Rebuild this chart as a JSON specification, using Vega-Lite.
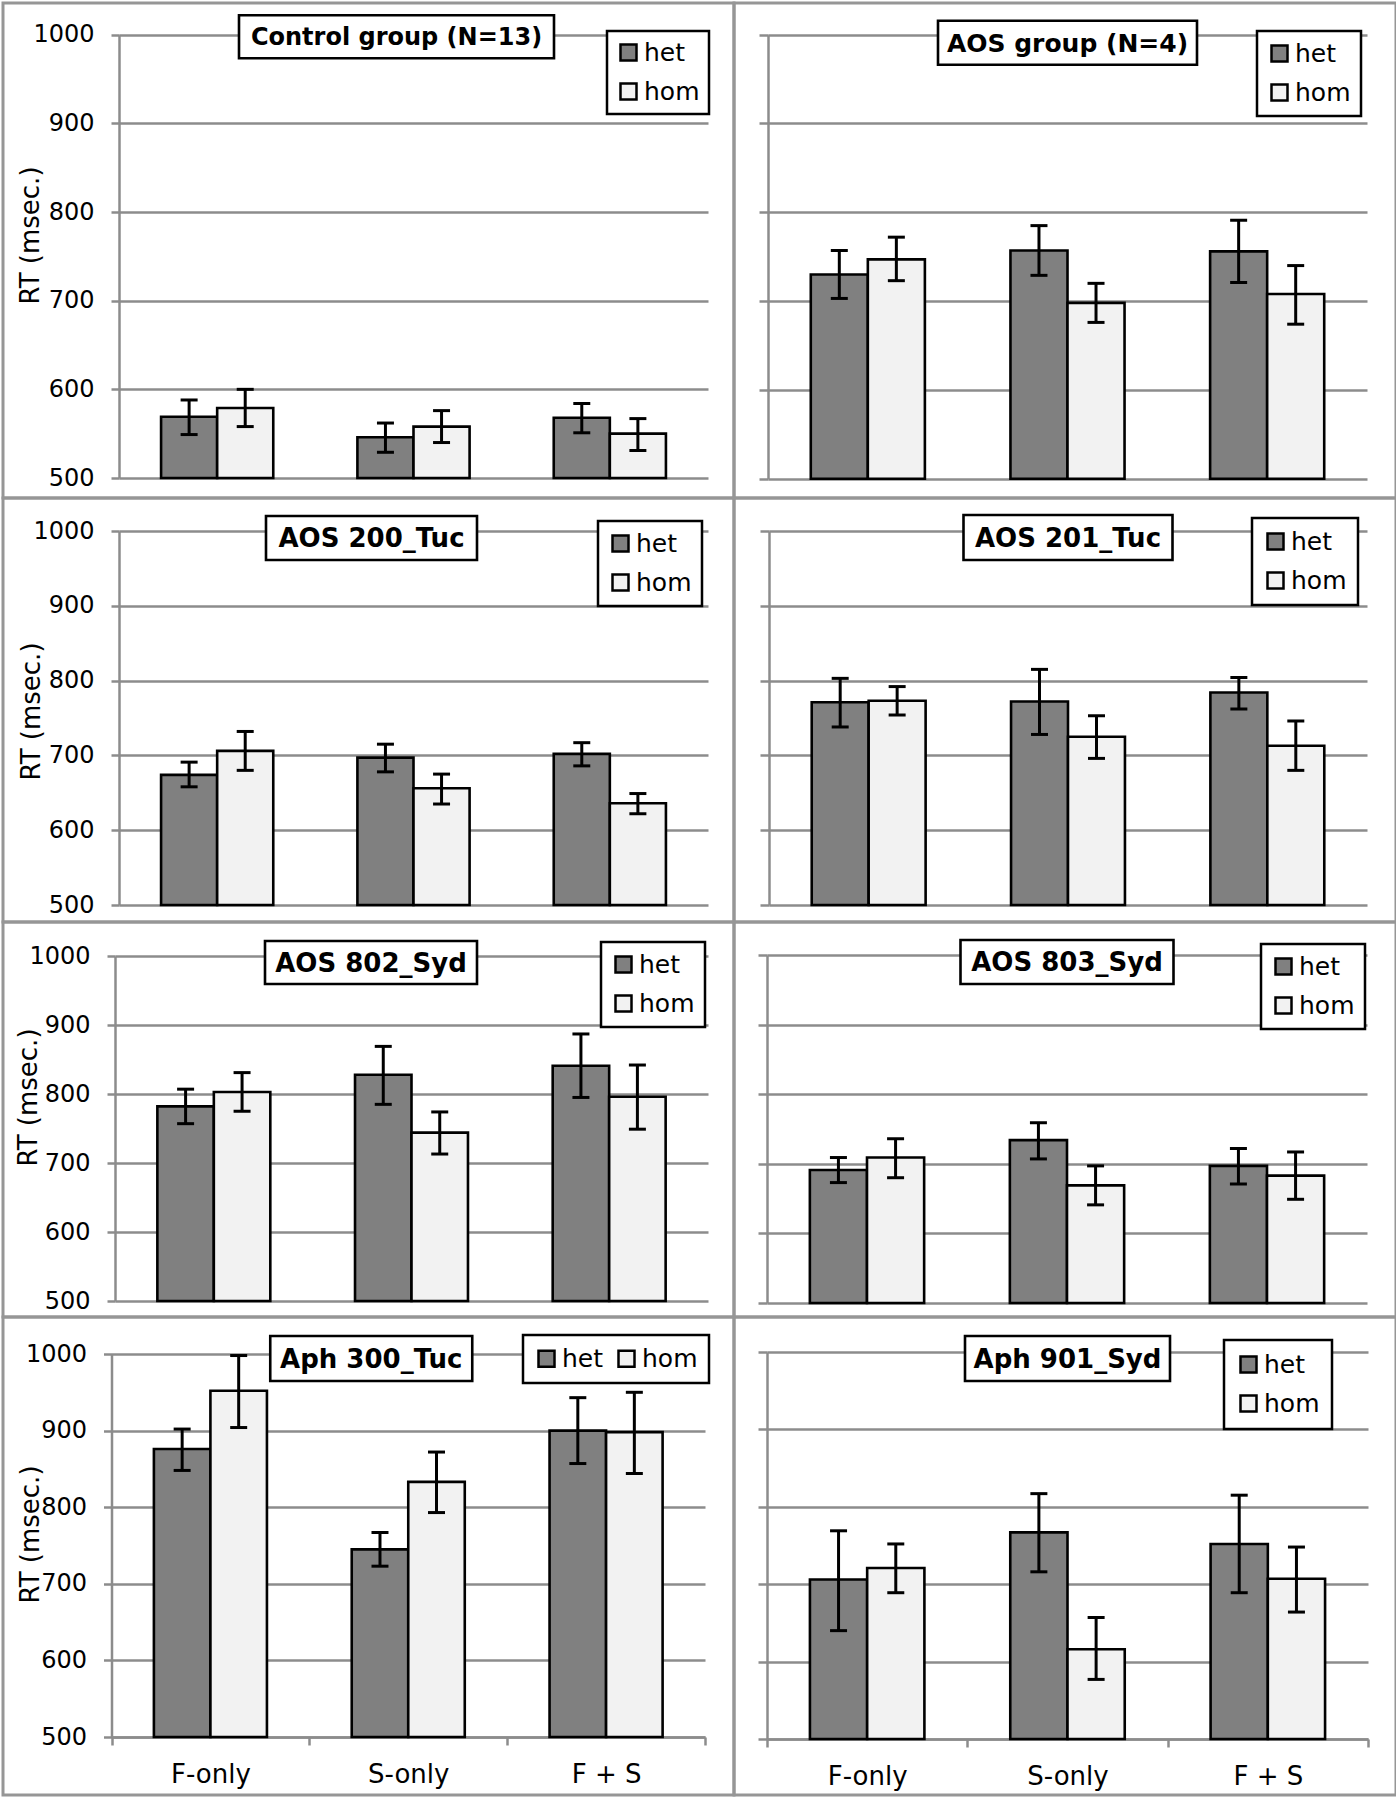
{
  "$schema": "https://vega.github.io/schema/vega-lite/v6.json",
  "background": "white",
  "padding": {"left": 1, "top": 1, "right": 0, "bottom": 0},
  "datasets": {
    "rt": [
      {"panel": "Control group (N=13)", "cond": "F-only", "geno": "het", "rt": 569, "lo": 549, "hi": 588},
      {"panel": "Control group (N=13)", "cond": "F-only", "geno": "hom", "rt": 579, "lo": 558, "hi": 600},
      {"panel": "Control group (N=13)", "cond": "S-only", "geno": "het", "rt": 546, "lo": 529, "hi": 562},
      {"panel": "Control group (N=13)", "cond": "S-only", "geno": "hom", "rt": 558, "lo": 540, "hi": 576},
      {"panel": "Control group (N=13)", "cond": "F + S", "geno": "het", "rt": 568, "lo": 551, "hi": 584},
      {"panel": "Control group (N=13)", "cond": "F + S", "geno": "hom", "rt": 550, "lo": 531, "hi": 567},
      {"panel": "AOS group (N=4)", "cond": "F-only", "geno": "het", "rt": 730, "lo": 703, "hi": 757},
      {"panel": "AOS group (N=4)", "cond": "F-only", "geno": "hom", "rt": 747, "lo": 723, "hi": 772},
      {"panel": "AOS group (N=4)", "cond": "S-only", "geno": "het", "rt": 757, "lo": 729, "hi": 785},
      {"panel": "AOS group (N=4)", "cond": "S-only", "geno": "hom", "rt": 698, "lo": 676, "hi": 720},
      {"panel": "AOS group (N=4)", "cond": "F + S", "geno": "het", "rt": 756, "lo": 721, "hi": 791},
      {"panel": "AOS group (N=4)", "cond": "F + S", "geno": "hom", "rt": 708, "lo": 674, "hi": 740},
      {"panel": "AOS 200_Tuc", "cond": "F-only", "geno": "het", "rt": 674, "lo": 658, "hi": 691},
      {"panel": "AOS 200_Tuc", "cond": "F-only", "geno": "hom", "rt": 706, "lo": 680, "hi": 732},
      {"panel": "AOS 200_Tuc", "cond": "S-only", "geno": "het", "rt": 697, "lo": 678, "hi": 715},
      {"panel": "AOS 200_Tuc", "cond": "S-only", "geno": "hom", "rt": 656, "lo": 635, "hi": 675},
      {"panel": "AOS 200_Tuc", "cond": "F + S", "geno": "het", "rt": 702, "lo": 686, "hi": 717},
      {"panel": "AOS 200_Tuc", "cond": "F + S", "geno": "hom", "rt": 636, "lo": 622, "hi": 649},
      {"panel": "AOS 201_Tuc", "cond": "F-only", "geno": "het", "rt": 771, "lo": 738, "hi": 803},
      {"panel": "AOS 201_Tuc", "cond": "F-only", "geno": "hom", "rt": 773, "lo": 754, "hi": 792},
      {"panel": "AOS 201_Tuc", "cond": "S-only", "geno": "het", "rt": 772, "lo": 728, "hi": 815},
      {"panel": "AOS 201_Tuc", "cond": "S-only", "geno": "hom", "rt": 725, "lo": 696, "hi": 753},
      {"panel": "AOS 201_Tuc", "cond": "F + S", "geno": "het", "rt": 784, "lo": 762, "hi": 804},
      {"panel": "AOS 201_Tuc", "cond": "F + S", "geno": "hom", "rt": 713, "lo": 680, "hi": 746},
      {"panel": "AOS 802_Syd", "cond": "F-only", "geno": "het", "rt": 782, "lo": 757, "hi": 807},
      {"panel": "AOS 802_Syd", "cond": "F-only", "geno": "hom", "rt": 803, "lo": 775, "hi": 831},
      {"panel": "AOS 802_Syd", "cond": "S-only", "geno": "het", "rt": 828, "lo": 785, "hi": 869},
      {"panel": "AOS 802_Syd", "cond": "S-only", "geno": "hom", "rt": 744, "lo": 713, "hi": 774},
      {"panel": "AOS 802_Syd", "cond": "F + S", "geno": "het", "rt": 841, "lo": 795, "hi": 887},
      {"panel": "AOS 802_Syd", "cond": "F + S", "geno": "hom", "rt": 796, "lo": 749, "hi": 842},
      {"panel": "AOS 803_Syd", "cond": "F-only", "geno": "het", "rt": 691, "lo": 673, "hi": 709},
      {"panel": "AOS 803_Syd", "cond": "F-only", "geno": "hom", "rt": 709, "lo": 680, "hi": 736},
      {"panel": "AOS 803_Syd", "cond": "S-only", "geno": "het", "rt": 734, "lo": 707, "hi": 759},
      {"panel": "AOS 803_Syd", "cond": "S-only", "geno": "hom", "rt": 669, "lo": 641, "hi": 697},
      {"panel": "AOS 803_Syd", "cond": "F + S", "geno": "het", "rt": 697, "lo": 671, "hi": 722},
      {"panel": "AOS 803_Syd", "cond": "F + S", "geno": "hom", "rt": 683, "lo": 649, "hi": 717},
      {"panel": "Aph 300_Tuc", "cond": "F-only", "geno": "het", "rt": 876, "lo": 848, "hi": 902},
      {"panel": "Aph 300_Tuc", "cond": "F-only", "geno": "hom", "rt": 952, "lo": 904, "hi": 998},
      {"panel": "Aph 300_Tuc", "cond": "S-only", "geno": "het", "rt": 745, "lo": 723, "hi": 767},
      {"panel": "Aph 300_Tuc", "cond": "S-only", "geno": "hom", "rt": 833, "lo": 793, "hi": 872},
      {"panel": "Aph 300_Tuc", "cond": "F + S", "geno": "het", "rt": 900, "lo": 857, "hi": 943},
      {"panel": "Aph 300_Tuc", "cond": "F + S", "geno": "hom", "rt": 898, "lo": 844, "hi": 950},
      {"panel": "Aph 901_Syd", "cond": "F-only", "geno": "het", "rt": 706, "lo": 640, "hi": 769},
      {"panel": "Aph 901_Syd", "cond": "F-only", "geno": "hom", "rt": 721, "lo": 689, "hi": 752},
      {"panel": "Aph 901_Syd", "cond": "S-only", "geno": "het", "rt": 767, "lo": 716, "hi": 817},
      {"panel": "Aph 901_Syd", "cond": "S-only", "geno": "hom", "rt": 616, "lo": 577, "hi": 657},
      {"panel": "Aph 901_Syd", "cond": "F + S", "geno": "het", "rt": 752, "lo": 689, "hi": 815},
      {"panel": "Aph 901_Syd", "cond": "F + S", "geno": "hom", "rt": 707, "lo": 664, "hi": 748}
    ]
  },
  "columns": 2,
  "spacing": 0,
  "bounds": "flush",
  "align": "each",
  "resolve": {
    "scale": {"x": "independent", "y": "independent", "xOffset": "independent", "fill": "independent"},
    "axis": {"x": "independent", "y": "independent"},
    "legend": {"fill": "independent"}
  },
  "concat": [
    {
      "width": 731, "height": 495,
      "data": {"name": "rt"},
      "transform": [{"filter": {"field": "panel", "equal": "Control group (N=13)"}}],
      "layer": [
        {"mark": {"type": "bar", "stroke": "black", "strokeWidth": 2.6},
         "encoding": {
           "x": {"field": "cond", "type": "nominal", "sort": null, "scale": {"domain": ["F-only", "S-only", "F + S"], "range": [116, 705], "paddingInner": 0, "paddingOuter": 0}, "axis": null},
           "y": {"field": "rt", "type": "quantitative", "scale": {"domain": [500, 1000], "range": [475, 31.7], "nice": false, "zero": false},
                 "axis": {"orient": "left", "offset": -116, "values": [500, 600, 700, 800, 900, 1000], "format": "d", "grid": true, "title": "RT (msec.)", "titleX": -89, "titleY": 232, "titleAngle": 270, "titleAlign": "center", "titleBaseline": "middle"}},
           "xOffset": {"field": "geno", "type": "nominal", "scale": {"paddingInner": 0, "paddingOuter": 0.75}}, "y2": {"datum": 500},
           "fill": {"field": "geno", "type": "nominal", "scale": {"domain": ["het", "hom"], "range": ["#808080", "#f2f2f2"]}, "legend": {"title": null, "orient": "none", "legendX": 604, "legendY": 28}}}},
        {"mark": {"type": "rule", "color": "black", "strokeWidth": 3},
         "encoding": {"x": {"field": "cond", "type": "nominal", "sort": null}, "xOffset": {"field": "geno", "type": "nominal"}, "y": {"field": "lo", "type": "quantitative"}, "y2": {"field": "hi"}}},
        {"mark": {"type": "tick", "color": "black", "size": 17, "thickness": 3, "opacity": 1},
         "encoding": {"x": {"field": "cond", "type": "nominal", "sort": null}, "xOffset": {"field": "geno", "type": "nominal"}, "y": {"field": "lo", "type": "quantitative"}}},
        {"mark": {"type": "tick", "color": "black", "size": 17, "thickness": 3, "opacity": 1},
         "encoding": {"x": {"field": "cond", "type": "nominal", "sort": null}, "xOffset": {"field": "geno", "type": "nominal"}, "y": {"field": "hi", "type": "quantitative"}}},
        {"transform": [{"aggregate": [{"op": "count", "as": "n"}], "groupby": ["panel"]}],
         "mark": {"type": "point", "shape": "M-1,-0.1365H1V0.1365H-1Z", "size": 99225, "filled": true, "fill": "white", "stroke": "black", "strokeWidth": 2.6, "opacity": 1, "xOffset": -17, "yOffset": 2},
         "encoding": {"x": {"datum": "S-only", "type": "nominal"}, "y": {"datum": 1000, "type": "quantitative"}}},
        {"transform": [{"aggregate": [{"op": "count", "as": "n"}], "groupby": ["panel"]}],
         "mark": {"type": "text", "font": "DejaVu Sans", "fontWeight": "bold", "fontSize": 24, "color": "black", "align": "center", "baseline": "middle", "dx": -17, "dy": 3},
         "encoding": {"x": {"datum": "S-only", "type": "nominal"}, "y": {"datum": 1000, "type": "quantitative"}, "text": {"field": "panel"}}}
      ]
    },
    {
      "width": 662, "height": 495,
      "data": {"name": "rt"},
      "transform": [{"filter": {"field": "panel", "equal": "AOS group (N=4)"}}],
      "layer": [
        {"mark": {"type": "bar", "stroke": "black", "strokeWidth": 2.6},
         "encoding": {
           "x": {"field": "cond", "type": "nominal", "sort": null, "scale": {"domain": ["F-only", "S-only", "F + S"], "range": [34, 633], "paddingInner": 0, "paddingOuter": 0}, "axis": null},
           "y": {"field": "rt", "type": "quantitative", "scale": {"domain": [500, 1000], "range": [475.7, 31.7], "nice": false, "zero": false},
                 "axis": {"orient": "left", "offset": -34, "values": [500, 600, 700, 800, 900, 1000], "grid": true, "labels": false, "title": null, "tickSize": 9}},
           "xOffset": {"field": "geno", "type": "nominal", "scale": {"paddingInner": 0, "paddingOuter": 0.75}}, "y2": {"datum": 500},
           "fill": {"field": "geno", "type": "nominal", "scale": {"domain": ["het", "hom"], "range": ["#808080", "#f2f2f2"]}, "legend": {"title": null, "orient": "none", "legendX": 523, "legendY": 28, "padding": 10}}}},
        {"mark": {"type": "rule", "color": "black", "strokeWidth": 3},
         "encoding": {"x": {"field": "cond", "type": "nominal", "sort": null}, "xOffset": {"field": "geno", "type": "nominal"}, "y": {"field": "lo", "type": "quantitative"}, "y2": {"field": "hi"}}},
        {"mark": {"type": "tick", "color": "black", "size": 17, "thickness": 3, "opacity": 1},
         "encoding": {"x": {"field": "cond", "type": "nominal", "sort": null}, "xOffset": {"field": "geno", "type": "nominal"}, "y": {"field": "lo", "type": "quantitative"}}},
        {"mark": {"type": "tick", "color": "black", "size": 17, "thickness": 3, "opacity": 1},
         "encoding": {"x": {"field": "cond", "type": "nominal", "sort": null}, "xOffset": {"field": "geno", "type": "nominal"}, "y": {"field": "hi", "type": "quantitative"}}},
        {"transform": [{"aggregate": [{"op": "count", "as": "n"}], "groupby": ["panel"]}],
         "mark": {"type": "point", "shape": "M-1,-0.1699H1V0.1699H-1Z", "size": 67081, "filled": true, "fill": "white", "stroke": "black", "strokeWidth": 2.6, "opacity": 1, "xOffset": 0, "yOffset": 8},
         "encoding": {"x": {"datum": "S-only", "type": "nominal"}, "y": {"datum": 1000, "type": "quantitative"}}},
        {"transform": [{"aggregate": [{"op": "count", "as": "n"}], "groupby": ["panel"]}],
         "mark": {"type": "text", "font": "DejaVu Sans", "fontWeight": "bold", "fontSize": 25, "color": "black", "align": "center", "baseline": "middle", "dx": 0, "dy": 9},
         "encoding": {"x": {"datum": "S-only", "type": "nominal"}, "y": {"datum": 1000, "type": "quantitative"}, "text": {"field": "panel"}}}
      ]
    },
    {
      "width": 731, "height": 424,
      "data": {"name": "rt"},
      "transform": [{"filter": {"field": "panel", "equal": "AOS 200_Tuc"}}],
      "layer": [
        {"mark": {"type": "bar", "stroke": "black", "strokeWidth": 2.6},
         "encoding": {
           "x": {"field": "cond", "type": "nominal", "sort": null, "scale": {"domain": ["F-only", "S-only", "F + S"], "range": [116, 705], "paddingInner": 0, "paddingOuter": 0}, "axis": null},
           "y": {"field": "rt", "type": "quantitative", "scale": {"domain": [500, 1000], "range": [407, 33], "nice": false, "zero": false},
                 "axis": {"orient": "left", "offset": -116, "values": [500, 600, 700, 800, 900, 1000], "format": "d", "grid": true, "title": "RT (msec.)", "titleX": -88, "titleY": 213, "titleAngle": 270, "titleAlign": "center", "titleBaseline": "middle"}},
           "xOffset": {"field": "geno", "type": "nominal", "scale": {"paddingInner": 0, "paddingOuter": 0.75}}, "y2": {"datum": 500},
           "fill": {"field": "geno", "type": "nominal", "scale": {"domain": ["het", "hom"], "range": ["#808080", "#f2f2f2"]}, "legend": {"title": null, "orient": "none", "legendX": 595, "legendY": 23, "padding": 10}}}},
        {"mark": {"type": "rule", "color": "black", "strokeWidth": 3},
         "encoding": {"x": {"field": "cond", "type": "nominal", "sort": null}, "xOffset": {"field": "geno", "type": "nominal"}, "y": {"field": "lo", "type": "quantitative"}, "y2": {"field": "hi"}}},
        {"mark": {"type": "tick", "color": "black", "size": 17, "thickness": 3, "opacity": 1},
         "encoding": {"x": {"field": "cond", "type": "nominal", "sort": null}, "xOffset": {"field": "geno", "type": "nominal"}, "y": {"field": "lo", "type": "quantitative"}}},
        {"mark": {"type": "tick", "color": "black", "size": 17, "thickness": 3, "opacity": 1},
         "encoding": {"x": {"field": "cond", "type": "nominal", "sort": null}, "xOffset": {"field": "geno", "type": "nominal"}, "y": {"field": "hi", "type": "quantitative"}}},
        {"transform": [{"aggregate": [{"op": "count", "as": "n"}], "groupby": ["panel"]}],
         "mark": {"type": "point", "shape": "M-1,-0.2085H1V0.2085H-1Z", "size": 44521, "filled": true, "fill": "white", "stroke": "black", "strokeWidth": 2.6, "opacity": 1, "xOffset": -42, "yOffset": 7},
         "encoding": {"x": {"datum": "S-only", "type": "nominal"}, "y": {"datum": 1000, "type": "quantitative"}}},
        {"transform": [{"aggregate": [{"op": "count", "as": "n"}], "groupby": ["panel"]}],
         "mark": {"type": "text", "font": "DejaVu Sans", "fontWeight": "bold", "fontSize": 26, "color": "black", "align": "center", "baseline": "middle", "dx": -42, "dy": 8},
         "encoding": {"x": {"datum": "S-only", "type": "nominal"}, "y": {"datum": 1000, "type": "quantitative"}, "text": {"field": "panel"}}}
      ]
    },
    {
      "width": 662, "height": 424,
      "data": {"name": "rt"},
      "transform": [{"filter": {"field": "panel", "equal": "AOS 201_Tuc"}}],
      "layer": [
        {"mark": {"type": "bar", "stroke": "black", "strokeWidth": 2.6},
         "encoding": {
           "x": {"field": "cond", "type": "nominal", "sort": null, "scale": {"domain": ["F-only", "S-only", "F + S"], "range": [35, 633], "paddingInner": 0, "paddingOuter": 0}, "axis": null},
           "y": {"field": "rt", "type": "quantitative", "scale": {"domain": [500, 1000], "range": [407, 33], "nice": false, "zero": false},
                 "axis": {"orient": "left", "offset": -35, "values": [500, 600, 700, 800, 900, 1000], "grid": true, "labels": false, "title": null, "tickSize": 9}},
           "xOffset": {"field": "geno", "type": "nominal", "scale": {"paddingInner": 0, "paddingOuter": 0.75}}, "y2": {"datum": 500},
           "fill": {"field": "geno", "type": "nominal", "scale": {"domain": ["het", "hom"], "range": ["#808080", "#f2f2f2"]}, "legend": {"title": null, "orient": "none", "legendX": 518, "legendY": 20, "padding": 11}}}},
        {"mark": {"type": "rule", "color": "black", "strokeWidth": 3},
         "encoding": {"x": {"field": "cond", "type": "nominal", "sort": null}, "xOffset": {"field": "geno", "type": "nominal"}, "y": {"field": "lo", "type": "quantitative"}, "y2": {"field": "hi"}}},
        {"mark": {"type": "tick", "color": "black", "size": 17, "thickness": 3, "opacity": 1},
         "encoding": {"x": {"field": "cond", "type": "nominal", "sort": null}, "xOffset": {"field": "geno", "type": "nominal"}, "y": {"field": "lo", "type": "quantitative"}}},
        {"mark": {"type": "tick", "color": "black", "size": 17, "thickness": 3, "opacity": 1},
         "encoding": {"x": {"field": "cond", "type": "nominal", "sort": null}, "xOffset": {"field": "geno", "type": "nominal"}, "y": {"field": "hi", "type": "quantitative"}}},
        {"transform": [{"aggregate": [{"op": "count", "as": "n"}], "groupby": ["panel"]}],
         "mark": {"type": "point", "shape": "M-1,-0.2153H1V0.2153H-1Z", "size": 43681, "filled": true, "fill": "white", "stroke": "black", "strokeWidth": 2.6, "opacity": 1, "xOffset": 0, "yOffset": 6.5},
         "encoding": {"x": {"datum": "S-only", "type": "nominal"}, "y": {"datum": 1000, "type": "quantitative"}}},
        {"transform": [{"aggregate": [{"op": "count", "as": "n"}], "groupby": ["panel"]}],
         "mark": {"type": "text", "font": "DejaVu Sans", "fontWeight": "bold", "fontSize": 26, "color": "black", "align": "center", "baseline": "middle", "dx": 0, "dy": 7.5},
         "encoding": {"x": {"datum": "S-only", "type": "nominal"}, "y": {"datum": 1000, "type": "quantitative"}, "text": {"field": "panel"}}}
      ]
    },
    {
      "width": 731, "height": 395,
      "data": {"name": "rt"},
      "transform": [{"filter": {"field": "panel", "equal": "AOS 802_Syd"}}],
      "layer": [
        {"mark": {"type": "bar", "stroke": "black", "strokeWidth": 2.6},
         "encoding": {
           "x": {"field": "cond", "type": "nominal", "sort": null, "scale": {"domain": ["F-only", "S-only", "F + S"], "range": [112, 705], "paddingInner": 0, "paddingOuter": 0}, "axis": null},
           "y": {"field": "rt", "type": "quantitative", "scale": {"domain": [500, 1000], "range": [379, 34], "nice": false, "zero": false},
                 "axis": {"orient": "left", "offset": -112, "values": [500, 600, 700, 800, 900, 1000], "format": "d", "grid": true, "title": "RT (msec.)", "titleX": -87, "titleY": 175, "titleAngle": 270, "titleAlign": "center", "titleBaseline": "middle"}},
           "xOffset": {"field": "geno", "type": "nominal", "scale": {"paddingInner": 0, "paddingOuter": 0.75}}, "y2": {"datum": 500},
           "fill": {"field": "geno", "type": "nominal", "scale": {"domain": ["het", "hom"], "range": ["#808080", "#f2f2f2"]}, "legend": {"title": null, "orient": "none", "legendX": 598, "legendY": 20, "padding": 10}}}},
        {"mark": {"type": "rule", "color": "black", "strokeWidth": 3},
         "encoding": {"x": {"field": "cond", "type": "nominal", "sort": null}, "xOffset": {"field": "geno", "type": "nominal"}, "y": {"field": "lo", "type": "quantitative"}, "y2": {"field": "hi"}}},
        {"mark": {"type": "tick", "color": "black", "size": 17, "thickness": 3, "opacity": 1},
         "encoding": {"x": {"field": "cond", "type": "nominal", "sort": null}, "xOffset": {"field": "geno", "type": "nominal"}, "y": {"field": "lo", "type": "quantitative"}}},
        {"mark": {"type": "tick", "color": "black", "size": 17, "thickness": 3, "opacity": 1},
         "encoding": {"x": {"field": "cond", "type": "nominal", "sort": null}, "xOffset": {"field": "geno", "type": "nominal"}, "y": {"field": "hi", "type": "quantitative"}}},
        {"transform": [{"aggregate": [{"op": "count", "as": "n"}], "groupby": ["panel"]}],
         "mark": {"type": "point", "shape": "M-1,-0.2028H1V0.2028H-1Z", "size": 44944, "filled": true, "fill": "white", "stroke": "black", "strokeWidth": 2.6, "opacity": 1, "xOffset": -40.5, "yOffset": 6.5},
         "encoding": {"x": {"datum": "S-only", "type": "nominal"}, "y": {"datum": 1000, "type": "quantitative"}}},
        {"transform": [{"aggregate": [{"op": "count", "as": "n"}], "groupby": ["panel"]}],
         "mark": {"type": "text", "font": "DejaVu Sans", "fontWeight": "bold", "fontSize": 26, "color": "black", "align": "center", "baseline": "middle", "dx": -40.5, "dy": 7.5},
         "encoding": {"x": {"datum": "S-only", "type": "nominal"}, "y": {"datum": 1000, "type": "quantitative"}, "text": {"field": "panel"}}}
      ]
    },
    {
      "width": 662, "height": 395,
      "data": {"name": "rt"},
      "transform": [{"filter": {"field": "panel", "equal": "AOS 803_Syd"}}],
      "layer": [
        {"mark": {"type": "bar", "stroke": "black", "strokeWidth": 2.6},
         "encoding": {
           "x": {"field": "cond", "type": "nominal", "sort": null, "scale": {"domain": ["F-only", "S-only", "F + S"], "range": [33, 633], "paddingInner": 0, "paddingOuter": 0}, "axis": null},
           "y": {"field": "rt", "type": "quantitative", "scale": {"domain": [500, 1000], "range": [381, 33], "nice": false, "zero": false},
                 "axis": {"orient": "left", "offset": -33, "values": [500, 600, 700, 800, 900, 1000], "grid": true, "labels": false, "title": null, "tickSize": 9}},
           "xOffset": {"field": "geno", "type": "nominal", "scale": {"paddingInner": 0, "paddingOuter": 0.75}}, "y2": {"datum": 500},
           "fill": {"field": "geno", "type": "nominal", "scale": {"domain": ["het", "hom"], "range": ["#808080", "#f2f2f2"]}, "legend": {"title": null, "orient": "none", "legendX": 527, "legendY": 22, "padding": 10}}}},
        {"mark": {"type": "rule", "color": "black", "strokeWidth": 3},
         "encoding": {"x": {"field": "cond", "type": "nominal", "sort": null}, "xOffset": {"field": "geno", "type": "nominal"}, "y": {"field": "lo", "type": "quantitative"}, "y2": {"field": "hi"}}},
        {"mark": {"type": "tick", "color": "black", "size": 17, "thickness": 3, "opacity": 1},
         "encoding": {"x": {"field": "cond", "type": "nominal", "sort": null}, "xOffset": {"field": "geno", "type": "nominal"}, "y": {"field": "lo", "type": "quantitative"}}},
        {"mark": {"type": "tick", "color": "black", "size": 17, "thickness": 3, "opacity": 1},
         "encoding": {"x": {"field": "cond", "type": "nominal", "sort": null}, "xOffset": {"field": "geno", "type": "nominal"}, "y": {"field": "hi", "type": "quantitative"}}},
        {"transform": [{"aggregate": [{"op": "count", "as": "n"}], "groupby": ["panel"]}],
         "mark": {"type": "point", "shape": "M-1,-0.2066H1V0.2066H-1Z", "size": 45369, "filled": true, "fill": "white", "stroke": "black", "strokeWidth": 2.6, "opacity": 1, "xOffset": 0, "yOffset": 7},
         "encoding": {"x": {"datum": "S-only", "type": "nominal"}, "y": {"datum": 1000, "type": "quantitative"}}},
        {"transform": [{"aggregate": [{"op": "count", "as": "n"}], "groupby": ["panel"]}],
         "mark": {"type": "text", "font": "DejaVu Sans", "fontWeight": "bold", "fontSize": 26, "color": "black", "align": "center", "baseline": "middle", "dx": 0, "dy": 8},
         "encoding": {"x": {"datum": "S-only", "type": "nominal"}, "y": {"datum": 1000, "type": "quantitative"}, "text": {"field": "panel"}}}
      ]
    },
    {
      "width": 731, "height": 478,
      "data": {"name": "rt"},
      "transform": [{"filter": {"field": "panel", "equal": "Aph 300_Tuc"}}],
      "layer": [
        {"mark": {"type": "bar", "stroke": "black", "strokeWidth": 2.6},
         "encoding": {
           "x": {"field": "cond", "type": "nominal", "sort": null, "scale": {"domain": ["F-only", "S-only", "F + S"], "range": [108.5, 702], "paddingInner": 0, "paddingOuter": 0},
                 "axis": {"orient": "bottom", "offset": -58, "tickBand": "extent", "labelAngle": 0, "labelFontSize": 26, "labelPadding": 16, "title": null, "tickSize": 8}},
           "y": {"field": "rt", "type": "quantitative", "scale": {"domain": [500, 1000], "range": [420, 37], "nice": false, "zero": false},
                 "axis": {"orient": "left", "offset": -108.5, "values": [500, 600, 700, 800, 900, 1000], "format": "d", "grid": true, "title": "RT (msec.)", "titleX": -81.5, "titleY": 217, "titleAngle": 270, "titleAlign": "center", "titleBaseline": "middle"}},
           "xOffset": {"field": "geno", "type": "nominal", "scale": {"paddingInner": 0, "paddingOuter": 0.75}}, "y2": {"datum": 500},
           "fill": {"field": "geno", "type": "nominal", "scale": {"domain": ["het", "hom"], "range": ["#808080", "#f2f2f2"]}, "legend": {"title": null, "orient": "none", "direction": "horizontal", "legendX": 520, "legendY": 18, "padding": 11, "columnPadding": 9}}}},
        {"mark": {"type": "rule", "color": "black", "strokeWidth": 3},
         "encoding": {"x": {"field": "cond", "type": "nominal", "sort": null}, "xOffset": {"field": "geno", "type": "nominal"}, "y": {"field": "lo", "type": "quantitative"}, "y2": {"field": "hi"}}},
        {"mark": {"type": "tick", "color": "black", "size": 17, "thickness": 3, "opacity": 1},
         "encoding": {"x": {"field": "cond", "type": "nominal", "sort": null}, "xOffset": {"field": "geno", "type": "nominal"}, "y": {"field": "lo", "type": "quantitative"}}},
        {"mark": {"type": "tick", "color": "black", "size": 17, "thickness": 3, "opacity": 1},
         "encoding": {"x": {"field": "cond", "type": "nominal", "sort": null}, "xOffset": {"field": "geno", "type": "nominal"}, "y": {"field": "hi", "type": "quantitative"}}},
        {"transform": [{"aggregate": [{"op": "count", "as": "n"}], "groupby": ["panel"]}],
         "mark": {"type": "point", "shape": "M-1,-0.2228H1V0.2228H-1Z", "size": 40804, "filled": true, "fill": "white", "stroke": "black", "strokeWidth": 2.6, "opacity": 1, "xOffset": -37, "yOffset": 4.5},
         "encoding": {"x": {"datum": "S-only", "type": "nominal"}, "y": {"datum": 1000, "type": "quantitative"}}},
        {"transform": [{"aggregate": [{"op": "count", "as": "n"}], "groupby": ["panel"]}],
         "mark": {"type": "text", "font": "DejaVu Sans", "fontWeight": "bold", "fontSize": 26, "color": "black", "align": "center", "baseline": "middle", "dx": -37, "dy": 5.5},
         "encoding": {"x": {"datum": "S-only", "type": "nominal"}, "y": {"datum": 1000, "type": "quantitative"}, "text": {"field": "panel"}}}
      ]
    },
    {
      "width": 662, "height": 478,
      "data": {"name": "rt"},
      "transform": [{"filter": {"field": "panel", "equal": "Aph 901_Syd"}}],
      "layer": [
        {"mark": {"type": "bar", "stroke": "black", "strokeWidth": 2.6},
         "encoding": {
           "x": {"field": "cond", "type": "nominal", "sort": null, "scale": {"domain": ["F-only", "S-only", "F + S"], "range": [33, 634], "paddingInner": 0, "paddingOuter": 0},
                 "axis": {"orient": "bottom", "offset": -56, "tickBand": "extent", "labelAngle": 0, "labelFontSize": 26, "labelPadding": 16, "title": null, "tickSize": 8}},
           "y": {"field": "rt", "type": "quantitative", "scale": {"domain": [500, 1000], "range": [422, 35], "nice": false, "zero": false},
                 "axis": {"orient": "left", "offset": -33, "values": [500, 600, 700, 800, 900, 1000], "grid": true, "labels": false, "title": null, "tickSize": 9}},
           "xOffset": {"field": "geno", "type": "nominal", "scale": {"paddingInner": 0, "paddingOuter": 0.75}}, "y2": {"datum": 500},
           "fill": {"field": "geno", "type": "nominal", "scale": {"domain": ["het", "hom"], "range": ["#808080", "#f2f2f2"]}, "legend": {"title": null, "orient": "none", "legendX": 490, "legendY": 23, "padding": 12}}}},
        {"mark": {"type": "rule", "color": "black", "strokeWidth": 3},
         "encoding": {"x": {"field": "cond", "type": "nominal", "sort": null}, "xOffset": {"field": "geno", "type": "nominal"}, "y": {"field": "lo", "type": "quantitative"}, "y2": {"field": "hi"}}},
        {"mark": {"type": "tick", "color": "black", "size": 17, "thickness": 3, "opacity": 1},
         "encoding": {"x": {"field": "cond", "type": "nominal", "sort": null}, "xOffset": {"field": "geno", "type": "nominal"}, "y": {"field": "lo", "type": "quantitative"}}},
        {"mark": {"type": "tick", "color": "black", "size": 17, "thickness": 3, "opacity": 1},
         "encoding": {"x": {"field": "cond", "type": "nominal", "sort": null}, "xOffset": {"field": "geno", "type": "nominal"}, "y": {"field": "hi", "type": "quantitative"}}},
        {"transform": [{"aggregate": [{"op": "count", "as": "n"}], "groupby": ["panel"]}],
         "mark": {"type": "point", "shape": "M-1,-0.2195H1V0.2195H-1Z", "size": 42025, "filled": true, "fill": "white", "stroke": "black", "strokeWidth": 2.6, "opacity": 1, "xOffset": 0, "yOffset": 6.5},
         "encoding": {"x": {"datum": "S-only", "type": "nominal"}, "y": {"datum": 1000, "type": "quantitative"}}},
        {"transform": [{"aggregate": [{"op": "count", "as": "n"}], "groupby": ["panel"]}],
         "mark": {"type": "text", "font": "DejaVu Sans", "fontWeight": "bold", "fontSize": 26, "color": "black", "align": "center", "baseline": "middle", "dx": 0, "dy": 7.5},
         "encoding": {"x": {"datum": "S-only", "type": "nominal"}, "y": {"datum": 1000, "type": "quantitative"}, "text": {"field": "panel"}}}
      ]
    }
  ],
  "config": {
    "view": {"stroke": "#969696", "strokeWidth": 3},
    "font": "DejaVu Sans",
    "axis": {"labelFont": "DejaVu Sans", "labelFontSize": 24, "labelColor": "black", "labelPadding": 17,
             "titleFont": "DejaVu Sans", "titleFontSize": 26, "titleFontWeight": "normal", "titleColor": "black",
             "domainColor": "#8c8c8c", "domainWidth": 2.5, "tickColor": "#8c8c8c", "tickWidth": 2.5, "tickSize": 8,
             "gridColor": "#8c8c8c", "gridWidth": 2.5, "gridOpacity": 1},
    "legend": {"labelFont": "DejaVu Sans", "labelFontSize": 25, "labelColor": "black", "symbolType": "square", "symbolSize": 256,
               "symbolStrokeColor": "black", "symbolStrokeWidth": 2.5, "symbolOpacity": 1, "strokeColor": "black", "strokeWidth": 2.5,
               "fillColor": "white", "padding": 9, "rowPadding": 12, "labelOffset": 3}
  }
}
